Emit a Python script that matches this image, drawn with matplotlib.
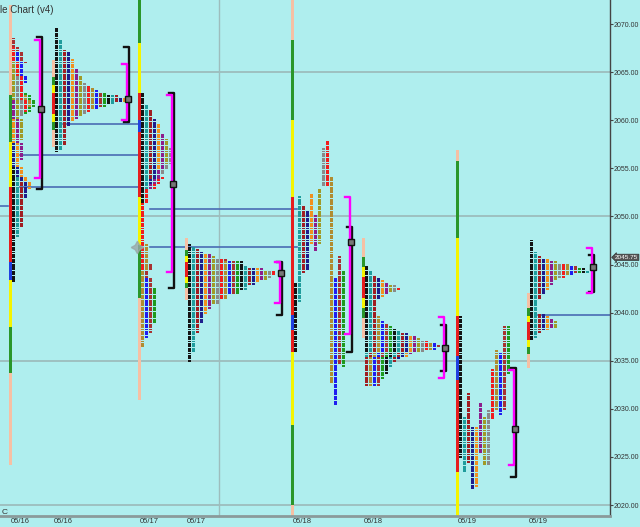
import numpy as np
import matplotlib.pyplot as plt
from matplotlib.patches import Rectangle
from matplotlib.collections import PatchCollection

plt.rcParams['font.family'] = ['Liberation Sans', 'DejaVu Sans']

TICK = 0.25

# ---- data ----
dates = ['05/16', '05/16', '05/17', '05/17', '05/18', '05/18', '05/19', '05/19']

# TPO periods (low, high) for each session, in time order
prof_a = [(2043.25, 2055.0), (2048.0, 2054.0), (2049.0, 2053.5), (2052.0, 2057.5),
          (2053.0, 2060.0), (2056.0, 2062.0), (2058.0, 2066.0), (2060.5, 2064.5),
          (2061.0, 2067.5), (2061.5, 2062.5), (2064.0, 2067.0), (2066.0, 2068.5),
          (2060.75, 2062.75)]
prof_b = [(2056.75, 2069.5), (2057.0, 2068.25), (2057.5, 2067.25), (2059.5, 2067.0),
          (2060.0, 2066.25), (2060.25, 2065.25), (2060.5, 2064.5), (2060.75, 2063.75),
          (2061.0, 2063.5), (2061.25, 2063.25), (2061.25, 2063.0), (2061.5, 2062.75),
          (2061.5, 2062.75), (2061.75, 2062.5), (2061.75, 2062.5), (2062.0, 2062.5),
          (2062.0, 2062.25), (2062.0, 2062.25)]
prof_c = [(2051.5, 2062.75), (2053.0, 2061.5), (2054.0, 2061.0), (2053.5, 2060.0),
          (2055.0, 2059.5), (2053.0, 2058.5), (2055.5, 2058.0), (2054.5, 2057.0),
          (2044.5, 2054.0), (2036.5, 2047.0), (2037.5, 2043.5), (2038.0, 2045.0),
          (2039.0, 2042.5)]
prof_d = [(2035.0, 2047.0), (2036.0, 2046.75), (2038.0, 2046.5), (2039.0, 2046.25),
          (2040.0, 2046.0), (2040.5, 2046.0), (2041.0, 2045.75), (2041.0, 2045.5),
          (2041.5, 2045.5), (2041.5, 2045.25), (2042.0, 2045.25), (2042.0, 2045.5),
          (2042.0, 2045.25), (2042.5, 2045.25), (2042.5, 2044.75), (2043.0, 2044.5),
          (2043.0, 2044.5), (2043.25, 2044.5), (2043.5, 2044.5), (2043.5, 2044.25),
          (2043.75, 2044.25), (2044.0, 2044.25)]
prof_e = [(2036.0, 2043.0), (2041.25, 2052.0), (2044.25, 2051.0), (2044.5, 2050.5),
          (2047.25, 2052.25), (2046.5, 2050.0), (2047.25, 2052.75), (2053.25, 2057.0),
          (2053.25, 2057.75), (2032.75, 2054.0), (2030.5, 2043.5), (2034.75, 2045.75),
          (2034.5, 2044.25)]
prof_f = [(2036.0, 2044.75), (2035.5, 2044.25), (2032.5, 2043.75), (2041.5, 2043.5),
          (2041.75, 2043.25), (2042.0, 2043.0), (2042.25, 2042.75), (2042.25, 2042.75),
          (2042.5, 2042.5), (2032.5, 2039.5), (2032.5, 2039.0), (2032.5, 2038.75),
          (2033.25, 2038.5), (2033.75, 2038.25), (2034.5, 2038.0), (2035.0, 2037.75),
          (2035.25, 2037.75), (2035.5, 2037.5), (2035.75, 2037.5), (2036.0, 2037.25),
          (2036.0, 2037.0), (2036.25, 2037.0), (2036.25, 2036.75), (2036.25, 2036.75),
          (2036.5, 2036.5)]
prof_g = [(2025.0, 2039.5), (2023.5, 2029.0), (2024.5, 2031.5), (2021.75, 2028.0),
          (2022.0, 2028.0), (2025.5, 2030.5), (2024.25, 2029.0), (2024.25, 2029.75),
          (2029.0, 2034.0), (2030.0, 2036.0), (2029.5, 2035.75), (2030.0, 2038.5),
          (2033.75, 2038.5)]
prof_h = [(2037.25, 2047.5), (2037.5, 2046.25), (2041.5, 2045.75), (2042.0, 2045.5),
          (2042.5, 2045.5), (2043.0, 2045.25), (2043.5, 2045.25), (2043.75, 2045.0),
          (2043.75, 2045.0), (2044.0, 2045.0), (2044.0, 2044.75), (2044.25, 2044.75),
          (2044.25, 2044.5), (2044.25, 2044.5), (2044.25, 2044.25), (2038.0, 2039.75),
          (2038.25, 2039.75), (2038.25, 2039.5), (2038.5, 2039.25), (2038.5, 2039.0)]
profiles = [prof_a, prof_b, prof_c, prof_d, prof_e, prof_f, prof_g, prof_h]
split = [False, False, False, False, True, False, True, False]

# period bar breakpoints (top to bottom) and segment colours
bar_levels = [
    [2072.0, 2062.6, 2057.7, 2053.1, 2045.3, 2043.4, 2038.5, 2033.7, 2024.2],
    [2066.3, 2064.5, 2063.7, 2062.8, 2060.7, 2059.8, 2059.0, 2057.2],
    [2072.5, 2068.0, 2062.8, 2060.0, 2058.8, 2052.0, 2047.0, 2041.5, 2030.9],
    [2047.75, 2046.5, 2045.9, 2045.25, 2043.7, 2043.1, 2042.55, 2041.3],
    [2072.5, 2068.3, 2060.0, 2052.0, 2039.75, 2038.2, 2035.9, 2028.3, 2020.0, 2017.7],
    [2047.75, 2045.8, 2044.75, 2043.7, 2041.5, 2040.5, 2039.4, 2037.35],
    [2056.9, 2055.75, 2047.75, 2039.65, 2035.5, 2033.0, 2023.4, 2017.7],
    [2042.0, 2040.5, 2039.65, 2039.0, 2037.15, 2036.4, 2035.7, 2034.2],
]
bar_colors = [
    ['pe', 'g', 'y', 'r', 'b', 'y', 'g', 'pe'],
    ['pe', 'g', 'y', 'r', 'y', 'g', 'pe'],
    ['g', 'y', 'r', 'b', 'r', 'y', 'g', 'pe'],
    ['pe', 'g', 'y', 'r', 'y', 'g', 'pe'],
    ['pe', 'g', 'y', 'r', 'b', 'r', 'y', 'g', 'pe'],
    ['pe', 'g', 'y', 'r', 'y', 'g', 'pe'],
    ['pe', 'g', 'y', 'r', 'b', 'r', 'y'],
    ['pe', 'g', 'y', 'r', 'y', 'g', 'pe'],
]

# brackets: (high, low)
rng_black = [(2068.65, 2052.85), (2067.6, 2059.8), (2062.8, 2042.6), (2045.25, 2039.75),
             (2048.9, 2035.9), (2038.7, 2033.9), (2034.2, 2022.9), (2046.0, 2042.1)]
va_magenta = [(2068.3, 2054.0), (2065.8, 2060.0), (2062.6, 2044.2), (2045.25, 2041.0),
              (2052.0, 2037.8), (2039.5, 2033.2), (2034.0, 2024.2), (2046.7, 2042.0)]
poc = [2061.2, 2062.2, 2053.4, 2044.1, 2047.3, 2036.3, 2027.9, 2044.75]

ref_levels = [2059.6, 2056.4, 2053.1, 2051.1, 2050.8, 2046.8, 2039.8]
grid_levels = [2065, 2050, 2035, 2020]
last_price = 2045.75

# ---- layout (pixels) ----
session_x = [10, 53, 139, 186, 292, 363, 457, 528]
bracket_x = [42, 129, 174, 282, 352, 446, 516, 594]
ref_spans = [(63, 138), (20, 138), (20, 138), (0, 8), (150, 297), (150, 297), (538, 610)]

tpo_colors = ['#141414', '#1f9c9c', '#a01e22', '#1e1e8c', '#f0901e', '#8c1e8c',
              '#a09a28', '#8a8a8a', '#f01e1e', '#b08c30', '#1e1ef0', '#a83232', '#1e9a1e']
seg_colors = {'pe': '#f6c0a4', 'g': '#2a962a', 'y': '#f4f400', 'r': '#e61e1e', 'b': '#2040e0'}
bg = '#afeeee'

fig = plt.figure(figsize=(6.4, 5.27), dpi=100, facecolor=bg)
ax = fig.add_axes([0, 11 / 527, 610 / 640, 516 / 527], facecolor=bg)
ax.set_xlim(0, 610)
ax.set_ylim(2018.86, 2072.5)

for g in grid_levels:
    ax.axhline(g, color='#9dbdbd', lw=1.3, zorder=0)
ax.axvline(219, color='#9dbdbd', lw=1.0, zorder=0)

for lvl, (x0, x1) in zip(ref_levels, ref_spans):
    ax.plot([x0, x1], [lvl, lvl], color='#4a6cb4', lw=1.2, zorder=1)

# TPO cells
rects, cols = [], []
for sx, periods, sp in zip(session_x, profiles, split):
    filled = {}
    for i, (lo, hi) in enumerate(periods):
        for p in np.arange(lo, hi + TICK / 2, TICK):
            k = int(round(p / TICK))
            if sp:
                col = i
            else:
                col = filled.get(k, 0)
                filled[k] = col + 1
            rects.append(Rectangle((sx + 2 + col * 4, p - 0.1), 3.3, 0.2))
            cols.append(tpo_colors[i % len(tpo_colors)])
ax.add_collection(PatchCollection(rects, facecolors=cols, edgecolors='none', zorder=3))

# period bars
for sx, lv, cl in zip(session_x, bar_levels, bar_colors):
    for top, bot, c in zip(lv[:-1], lv[1:], cl):
        ax.add_patch(Rectangle((sx - 1.5, bot), 3, top - bot, color=seg_colors[c], lw=0, zorder=2))

# brackets
for bx, (bh, bl), (mh, ml), pc in zip(bracket_x, rng_black, va_magenta, poc):
    ax.plot([bx - 5, bx, bx, bx - 5], [bh, bh, bl, bl], color='#111111', lw=1.7, zorder=4)
    ax.plot([bx - 7, bx - 2, bx - 2, bx - 7], [mh, mh, ml, ml], color='#ff00ff', lw=1.7, zorder=5)
    ax.plot(bx - 1.5, pc, marker='s', ms=4, mfc='#777777', mec='#111111', mew=1, zorder=6)

# cursor mark
ax.plot(137, 2046.8, marker=(4, 1, 0), ms=9, color='#9aa8a8', alpha=0.8, zorder=6)

# axes styling
for s in ['top', 'left']:
    ax.spines[s].set_visible(False)
ax.spines['right'].set_color('#444444')
ax.spines['right'].set_linewidth(1)
ax.spines['bottom'].set_color('#8a9a9a')
ax.spines['bottom'].set_linewidth(2)
ax.set_xticks([])
ax.yaxis.tick_right()
ax.set_yticks(np.arange(2020, 2071, 5))
ax.yaxis.set_major_formatter(plt.FormatStrFormatter('%.2f'))
ax.tick_params(axis='y', labelsize=5, labelcolor='#333333', color='#444444',
               length=2.5, width=0.8, pad=0.4)

for sx, d in zip(session_x, dates):
    ax.text(sx + 10, -0.004, d, transform=ax.get_xaxis_transform(), ha='center', va='top',
            fontsize=5.5, color='#333333')

ax.text(615, last_price, '2045.75', fontsize=4.6, color='white', va='center', ha='left',
        bbox=dict(boxstyle='larrow,pad=0.1', fc='#555555', ec='#333333', lw=0.5),
        clip_on=False, zorder=7)

fig.text(0.0, 0.99, 'le Chart (v4)', fontsize=7, color='#333333', ha='left', va='top')
fig.text(0.003, 0.027, 'C', fontsize=6, color='#333333', ha='left', va='center')

fig.savefig('out.png', dpi=100, facecolor=bg)
